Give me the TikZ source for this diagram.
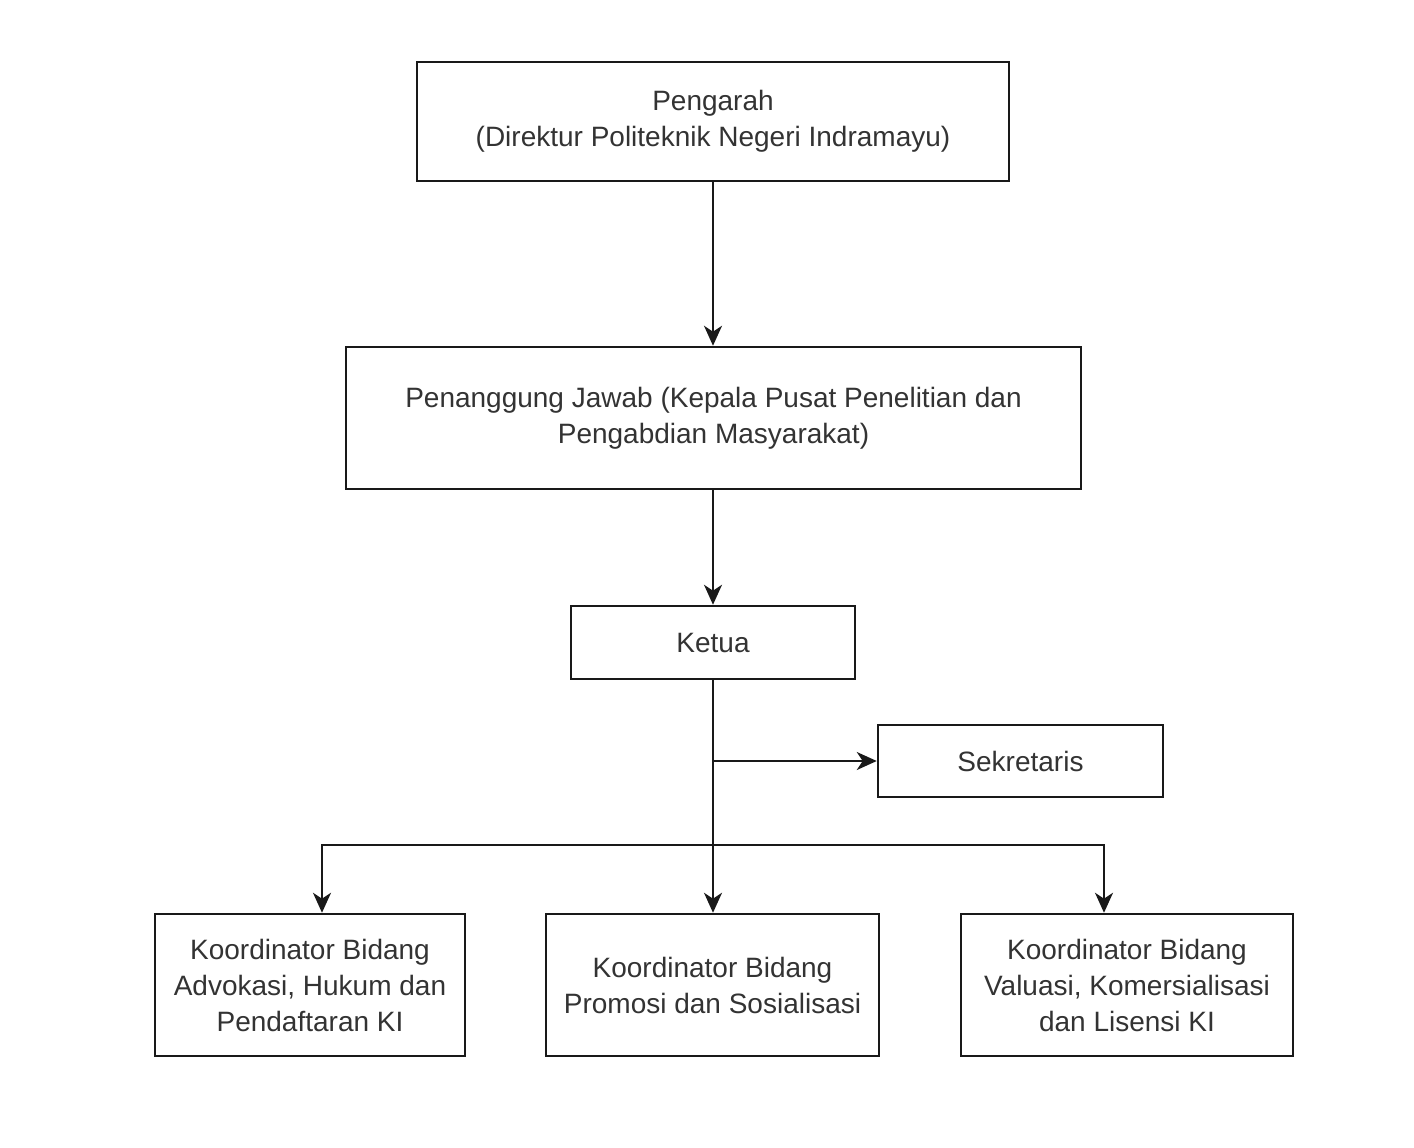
\documentclass[tikz,border=0pt]{standalone}
\usepackage{fontspec}
\setmainfont{Liberation Sans}
\usetikzlibrary{arrows.meta}
\begin{document}
\begin{tikzpicture}[x=1pt,y=-1pt,
  box/.style={draw=black!90, line width=2.5pt, inner sep=0pt, align=center,
    font=\fontsize{28}{36}\selectfont, text=black!80},
  conn/.style={line width=2.4pt, draw=black!90, -{Stealth[length=20pt,width=18pt,inset=6pt]}}]
\useasboundingbox (0,0) rectangle (1414,1148);
\node[box, minimum width=592pt, minimum height=119pt] (pengarah) at (713,121.5)
  {Pengarah\\(Direktur Politeknik Negeri Indramayu)};
\node[box, minimum width=735pt, minimum height=142pt] (pj) at (713.5,418)
  {Penanggung Jawab (Kepala Pusat Penelitian dan\\Pengabdian Masyarakat)};
\node[box, minimum width=284pt, minimum height=73pt] (ketua) at (713,642.5) {Ketua};
\node[box, minimum width=285pt, minimum height=72pt] (sek) at (1020.5,761) {Sekretaris};
\node[box, minimum width=310pt, minimum height=142pt] (k1) at (310,985)
  {Koordinator Bidang\\Advokasi, Hukum dan\\Pendaftaran KI};
\node[box, minimum width=333pt, minimum height=142pt] (k2) at (712.5,985)
  {Koordinator Bidang\\Promosi dan Sosialisasi};
\node[box, minimum width=332pt, minimum height=142pt] (k3) at (1127,985)
  {Koordinator Bidang\\Valuasi, Komersialisasi\\dan Lisensi KI};
\coordinate (j1) at (713,761);
\coordinate (j2) at (713,845);
\coordinate (jl) at (322,845);
\coordinate (jr) at (1104,845);
\draw[conn] (pengarah.south) -- (pengarah.south |- pj.north);
\draw[conn] (pj.south -| pengarah.south) -- (ketua.north);
\draw[conn] (ketua.south) -- (ketua.south |- k2.north);
\draw[conn] (j1) -- (sek.west);
\draw[conn] (j2) -- (jl) -- (k1.north -| jl);
\draw[conn] (j2) -- (jr) -- (k3.north -| jr);
\end{tikzpicture}
\end{document}
